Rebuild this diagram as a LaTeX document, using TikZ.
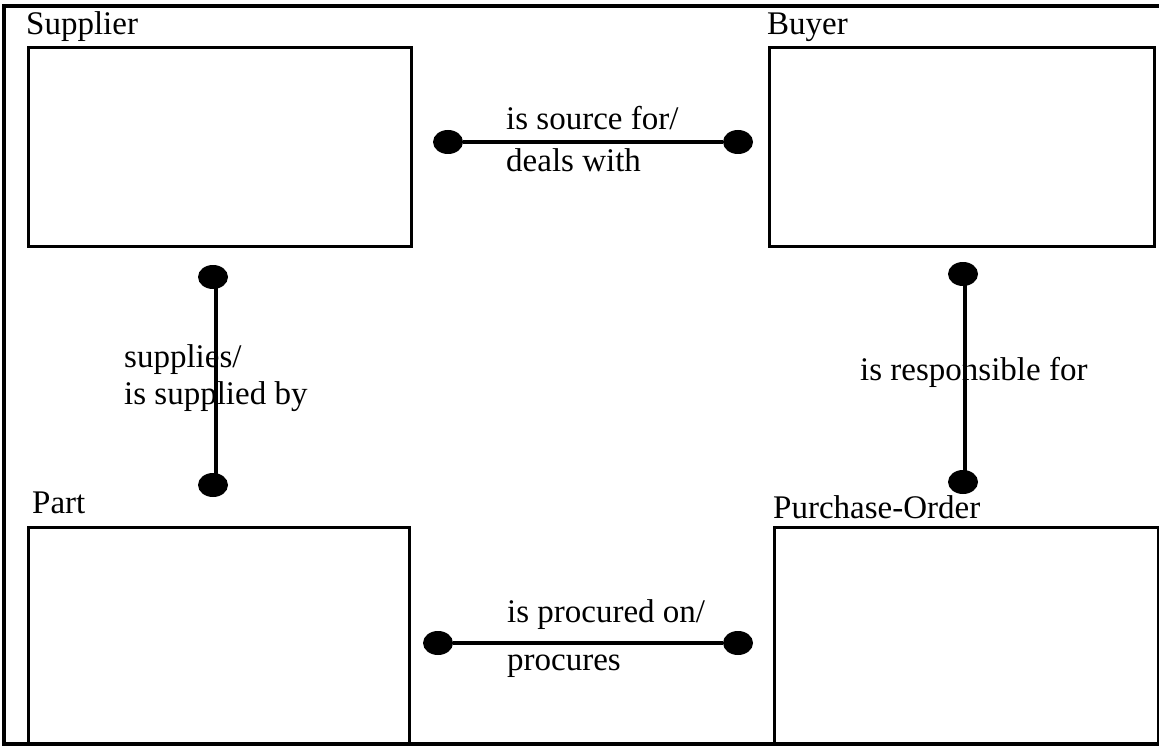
\documentclass[tikz,border=0pt]{standalone}
\usepackage{fontspec}
\setmainfont{Liberation Serif}
\usetikzlibrary{shapes.geometric}

\begin{document}
\begin{tikzpicture}[x=1pt, y=-1pt,
  entity/.style={draw, line width=3.2pt, rectangle, anchor=north west, inner sep=0pt},
  caption/.style={anchor=base west, inner sep=0pt, font=\fontsize{33}{40}\selectfont},
  endpoint/.style={ellipse, fill=black, draw=none, minimum width=30pt, minimum height=24pt, inner sep=0pt},
  relation/.style={line width=3.2pt}
]
\useasboundingbox (0,0) rectangle (1159,746);

% open frame: top, left and bottom sides
\draw[line width=3.2pt] (1159,6) -- (4,6) -- (4,744) -- (1159,744);

% entity boxes
\node[entity, minimum width=383pt, minimum height=199pt] (supplier) at (27,46) {};
\node[entity, minimum width=385pt, minimum height=199pt] (buyer) at (768,46) {};
\node[entity, minimum width=381pt, minimum height=218pt] (part) at (27,526) {};
\node[entity, minimum width=384pt, minimum height=218pt] (po) at (773,526) {};

% entity names
\node[caption] (tsupplier) at (26,35) {Supplier};
\node[caption] (tbuyer) at (767,35) {Buyer};
\node[caption] (tpart) at (32,513) {Part};
\node[caption] (tpo) at (773,518) {Purchase-Order};

% relationship end points
\node[endpoint] (sb1) at (448,142) {};
\node[endpoint] (sb2) at (738,142) {};
\node[endpoint] (pp1) at (438,643) {};
\node[endpoint] (pp2) at (738,643) {};
\node[endpoint] (sp1) at (213,277) {};
\node[endpoint] (sp2) at (213,485) {};
\node[endpoint] (bp1) at (963,274) {};
\node[endpoint] (bp2) at (963,482) {};

% relationship lines
\draw[relation] (sb1) -- (sb2);
\draw[relation] (pp1) -- (pp2);
\path (sp1.center) ++(3,0) coordinate (sptop) (sp2.center) ++(3,0) coordinate (spbot);
\draw[relation] (sptop) -- (spbot);
\path (bp1.center) ++(2,0) coordinate (bptop) (bp2.center) ++(2,0) coordinate (bpbot);
\draw[relation] (bptop) -- (bpbot);

% relationship names
\node[caption] (lsb1) at (506,130) {is source for/};
\node[caption] (lsb2) at (506,172) {deals with};
\node[caption] (lpp1) at (507,622) {is procured on/};
\node[caption] (lpp2) at (507,670) {procures};
\node[caption] (lsp1) at (124,367) {supplies/};
\node[caption] (lsp2) at (124,404) {is supplied by};
\node[caption] (lbp) at (860,380) {is responsible for};
\end{tikzpicture}
\end{document}
